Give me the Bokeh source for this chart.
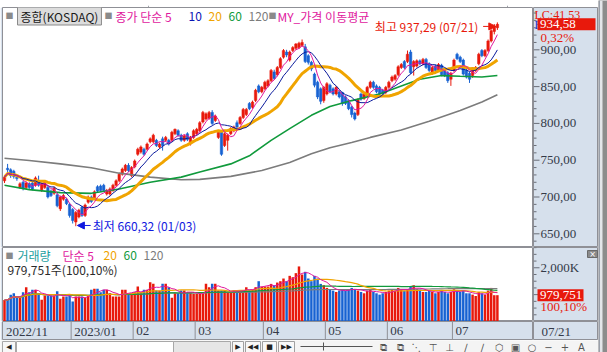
import pandas as pd
from bokeh.plotting import figure
from bokeh.layouts import column, row
from bokeh.models import ColumnDataSource, Range1d, Label, Arrow, NormalHead
from bokeh.embed import file_html
from bokeh.resources import INLINE
from bokeh.core.properties import value

# ---------------- data (KOSDAQ daily, 2022/11/30 - 2023/07/21) ----------------
index_name = "종합(KOSDAQ)"
opens = [722, 739, 737, 735, 727, 713, 720, 713, 718, 719,
         716, 722, 710, 713, 713, 708, 705, 703, 684, 697,
         697, 690, 683, 666, 673, 686, 675, 693, 700, 698,
         714, 715, 716, 704, 704, 709, 716, 722, 731, 736,
         743, 729, 741, 758, 761, 765, 765, 775, 775, 777,
         768, 779, 777, 777, 777, 786, 790, 784, 777, 786,
         772, 781, 786, 790, 802, 806, 807, 815, 804, 781,
         788, 770, 777, 786, 790, 801, 800, 808, 812, 827,
         822, 831, 851, 843, 847, 851, 858, 870, 866, 876,
         890, 897, 886, 899, 902, 903, 906, 904, 892, 883,
         867, 856, 847, 831, 840, 852, 847, 840, 843, 842,
         836, 831, 822, 814, 812, 840, 834, 838, 849, 856,
         851, 849, 845, 842, 849, 858, 860, 866, 876, 884,
         884, 897, 877, 878, 885, 881, 887, 881, 868, 878,
         872, 879, 872, 869, 860, 872, 894, 890, 886, 872,
         868, 865, 872, 881, 899, 892, 899, 912, 925, 930]
closes = [727, 737, 729, 728, 725, 718, 712, 719, 713, 711,
          726, 716, 718, 720, 700, 702, 712, 688, 700, 702,
          691, 675, 668, 679, 682, 675, 689, 700, 694, 707,
          708, 709, 709, 709, 711, 716, 722, 731, 738, 743,
          736, 740, 749, 765, 768, 758, 772, 779, 784, 770,
          772, 770, 781, 772, 788, 792, 784, 777, 783, 778,
          781, 790, 792, 801, 815, 813, 815, 800, 810, 788,
          758, 786, 784, 793, 795, 795, 808, 819, 819, 820,
          829, 845, 843, 849, 856, 858, 872, 861, 876, 888,
          899, 893, 897, 903, 908, 909, 910, 884, 883, 874,
          852, 836, 830, 849, 854, 843, 840, 849, 836, 827,
          827, 820, 812, 806, 832, 833, 840, 849, 856, 849,
          843, 840, 840, 849, 856, 863, 865, 877, 880, 876,
          894, 869, 884, 885, 881, 887, 876, 872, 876, 872,
          880, 866, 865, 858, 868, 886, 888, 884, 867, 863,
          860, 874, 876, 894, 892, 899, 912, 926, 931.6, 934.58]
highs = [730, 745, 739, 737, 729, 720, 722, 721, 720, 721,
         728, 729, 719, 722, 715, 710, 714, 705, 702, 704,
         699, 692, 685, 681, 684, 688, 691, 702, 702, 709,
         716, 717, 718, 711, 713, 718, 724, 733, 740, 745,
         746, 742, 751, 767, 770, 767, 774, 781, 786, 779,
         774, 782, 783, 779, 790, 793, 792, 786, 785, 788,
         783, 792, 794, 803, 817, 815, 817, 818, 812, 790,
         790, 788, 786, 795, 797, 804, 810, 821, 821, 829,
         831, 847, 853, 851, 858, 860, 874, 873, 878, 890,
         901, 900, 899, 905, 909, 911, 914, 908, 894, 885,
         869, 858, 849, 851, 856, 854, 849, 851, 845, 843,
         838, 833, 824, 816, 834, 842, 842, 851, 858, 858,
         853, 851, 847, 851, 858, 865, 867, 879, 882, 886,
         899, 900, 886, 887, 887, 889, 889, 883, 878, 880,
         882, 881, 874, 871, 870, 888, 896, 892, 888, 874,
         870, 876, 878, 896, 901, 901, 914, 928, 935, 937.29]
lows = [719, 733, 726, 725, 722, 711, 709, 711, 711, 709,
        714, 714, 707, 711, 698, 700, 703, 686, 681, 695,
        689, 672, 664, 660.32, 671, 673, 673, 691, 692, 696,
        706, 707, 707, 702, 702, 707, 714, 720, 729, 734,
        734, 727, 739, 756, 759, 756, 763, 773, 773, 768,
        766, 763, 775, 770, 775, 784, 782, 775, 775, 776,
        770, 779, 784, 788, 800, 804, 805, 798, 802, 779,
        756, 768, 763, 784, 788, 793, 798, 806, 810, 818,
        820, 829, 841, 841, 845, 849, 856, 859, 864, 874,
        888, 890, 884, 897, 900, 901, 904, 882, 880, 871,
        849, 833, 826, 828, 838, 841, 838, 838, 834, 824,
        825, 818, 808, 804, 810, 831, 832, 836, 847, 847,
        841, 838, 838, 840, 847, 856, 858, 864, 874, 874,
        882, 867, 865, 876, 879, 879, 874, 870, 866, 870,
        870, 864, 863, 855, 851, 870, 886, 882, 865, 861,
        855, 862, 870, 879, 890, 890, 897, 910, 921, 927]
volumes = [800000, 810000, 1000000, 1055000, 881000, 881000, 1092000, 1278000, 1092000, 1179000,
           1179000, 1030000, 807000, 968000, 968000, 968000, 968000, 1130000, 844000, 931000,
           931000, 968000, 745000, 931000, 931000, 931000, 881000, 968000, 1179000, 1215000,
           1215000, 1092000, 1179000, 1179000, 1055000, 931000, 931000, 931000, 1179000, 1179000,
           1030000, 1030000, 1092000, 1300000, 1055000, 1179000, 1179000, 1464000, 1403000, 1154000,
           1154000, 1403000, 1403000, 1278000, 881000, 1055000, 1055000, 1154000, 1154000, 1055000,
           1055000, 1030000, 1030000, 1030000, 1030000, 1403000, 1278000, 1403000, 1403000, 1154000,
           1154000, 1154000, 1092000, 1092000, 1154000, 1154000, 1154000, 1154000, 1278000, 1179000,
           1179000, 1278000, 1500000, 1300000, 1300000, 1300000, 1400000, 1350000, 1450000, 1500000,
           1600000, 1500000, 1700000, 1650000, 1800000, 2050000, 1750000, 1850000, 1600000, 1500000,
           1700000, 1600000, 1400000, 1350000, 1250000, 1200000, 1150000, 1100000, 1150000, 1200000,
           1150000, 1200000, 1250000, 1200000, 1150000, 1100000, 1050000, 1150000, 1200000, 1100000,
           1050000, 1000000, 1050000, 1100000, 1150000, 1200000, 1150000, 1250000, 1200000, 1150000,
           1200000, 1300000, 1350000, 1200000, 1150000, 1100000, 1100000, 1150000, 1100000, 1050000,
           1100000, 1150000, 1100000, 1050000, 1100000, 1200000, 1150000, 1100000, 1150000, 1050000,
           1050000, 1000000, 950000, 1100000, 1050000, 1000000, 1150000, 1250000, 978772, 979751]
# moving averages 60 / 120 (day index, value)
ma60_day = [0, 8, 18, 28, 37, 47, 57, 63, 73, 79, 86, 92, 99, 105, 112, 121, 128, 134, 141, 147, 154, 159]
ma60_val = [716, 710, 706, 705, 711, 720, 727, 734, 745, 756, 777, 793, 811, 823, 831, 840, 851, 860, 865, 864, 863, 865]
ma120_day = [0, 8, 18, 28, 37, 47, 57, 63, 73, 83, 92, 99, 105, 112, 118, 128, 137, 147, 154, 159]
ma120_val = [752.7, 749.6, 745, 739.7, 732.4, 727, 723.4, 724, 728, 736, 747, 758.7, 767, 774, 781, 791, 803, 817.5, 829, 839]
month_start = [0, 22, 42, 62, 84, 104, 124, 145]
month_label = ["2022/11", "2023/01", "02", "03", "04", "05", "06", "07"]
last_date = "07/21"
hi_date = "07/21"
lo_date = "01/03"
lc_text = "LC:41,53"
price_ticks = [650, 700, 750, 800, 850, 900]
price_minor = list(range(640, 960, 10))
vol_ticks = [1000000, 2000000]
vol_minor = list(range(0, 2750001, 250000))

# ---------------- styling ----------------
AXBG = "#d6e0ec"
LINE = "#8f9096"
RED = "#e8190c"
BLUE = "#1762d2"
MAG = "#e0189e"
NAVY = "#0a1a9c"
ORANGE = "#f0a400"
GREEN = "#109a3c"
GRAY = "#7c7c7c"
TEAL = "#1a9e9e"
TXT = "#343a48"
KR = "Noto Sans CJK KR"
NUM = "Liberation Sans Narrow"

FL, FR, W = 2, 533, 598   # plot frame left / right, window content right (px)
RW = W - FR               # width of the right info column
XR = Range1d(-0.645, 170.65)


def fmt2(v):
    return f"{v:.2f}".replace(".", ",")


n = len(closes)
xs = list(range(n))
cols = [RED if c >= o else BLUE for o, c in zip(opens, closes)]
bot = [min(o, c) for o, c in zip(opens, closes)]
top = [max(max(o, c), b + 1.0) for o, c, b in zip(opens, closes, bot)]
src = ColumnDataSource(dict(x=xs, o=opens, c=closes, h=highs, l=lows, top=top, bot=bot, col=cols, v=volumes))

cs = pd.Series(closes)
ma5 = cs.rolling(5, min_periods=1).mean()
ma10 = cs.rolling(10, min_periods=1).mean()
ma20 = cs.rolling(20, min_periods=1).mean()
vs = pd.Series(volumes, dtype=float)
vma = {k: vs.rolling(k, min_periods=1).mean() for k in (5, 20, 60, 120)}


def clean(p):
    p.xgrid.visible = False
    p.ygrid.visible = False
    return p


def panel(h, yr, bg="white"):
    p = figure(width=FR, height=h, x_range=XR, y_range=yr, output_backend="svg", toolbar_location=None,
               x_axis_location=None, y_axis_location=None, min_border_left=FL, min_border_right=0,
               min_border_top=0, min_border_bottom=0, background_fill_color=bg, border_fill_color=AXBG,
               outline_line_color=LINE)
    return clean(p)


def side(h, yr):
    p = figure(width=RW, height=h, x_range=Range1d(0, RW), y_range=yr, output_backend="svg",
               toolbar_location=None, x_axis_location=None, y_axis_location=None, min_border=0,
               background_fill_color=AXBG, border_fill_color=AXBG, outline_line_color=LINE)
    return clean(p)


def lab(p, text, x, y, color, size="12px", font=KR, xu="screen", yu="screen", align="left",
        baseline="middle", **kw):
    p.add_layout(Label(x=x, y=y, x_units=xu, y_units=yu, text=text, text_color=color,
                       text_font_size=size, text_font=font, text_align=align, text_baseline=baseline, **kw))


def scale_ticks(p, ticks, minor, labels):
    mn = [m for m in minor if m not in ticks]
    p.segment(x0=[0] * len(mn), y0=mn, x1=[3] * len(mn), y1=mn, line_color="#6a6e78")
    p.segment(x0=[0] * len(ticks), y0=ticks, x1=[6] * len(ticks), y1=ticks, line_color="#6a6e78")
    p.text(x=[7] * len(ticks), y=ticks, text=labels, text_font=value(NUM), text_font_size="13px",
           text_color=TXT, text_baseline="middle")


def gtext(p, x, y, text, color, size="13px"):
    p.text(x=[x], y=[y], text=[text], text_font=value(NUM), text_font_size=size,
           text_color=color, text_baseline="middle")


def value_box(p, val, text, right, half):
    # red current-value marker on the scale column
    p.quad(left=[4], right=[right], bottom=[val - half], top=[val + half], fill_color=RED, line_color=None)
    gtext(p, 6.5, val, text, "white")


# ---------------- main price panel ----------------
MT, MB = 7, 247
PY = Range1d(631.4, 957.5)
main = panel(MB - MT, PY)
main_r = side(MB - MT, PY)
scale_ticks(main_r, price_ticks, price_minor, [fmt2(t) for t in price_ticks])
mx = lambda gx: gx - FL
rx = lambda gx: gx - FR
my = lambda gy: MB - gy
p_unit = (PY.end - PY.start) / (MB - MT)      # price per pixel
py = lambda gy: PY.end - (gy - MT) * p_unit

main.segment(x0="x", y0="l", x1="x", y1="h", line_color="col", line_width=1, source=src)
main.vbar(x="x", width=0.8, top="top", bottom="bot", fill_color="col", line_color="col", line_width=0.5, source=src)
main.line(ma120_day, ma120_val, line_color=GRAY, line_width=1.6)
main.line(ma60_day, ma60_val, line_color=GREEN, line_width=1.6)
main.line(xs, ma20, line_color=ORANGE, line_width=3)
main.line(xs, ma10, line_color=NAVY, line_width=1)
main.line(xs, ma5, line_color=MAG, line_width=1)

# legend row
lab(main, "■", mx(5), my(15), "#8a8a8a", size="8px")
lab(main, index_name, mx(17), my(15.5), "#1a1a1a", background_fill_color="#dcdcdc",
    border_line_color="#8a8a8a", padding=dict(left=3, right=3, top=1, bottom=0))
lab(main, "■", mx(104), my(15), "#8a8a8a", size="8px")
lab(main, "종가 단순 5", mx(115), my(15.5), MAG)
lab(main, "10", mx(188), my(15.5), "#0a14b4")
lab(main, "20", mx(208), my(15.5), ORANGE)
lab(main, "60", mx(228), my(15.5), GREEN)
lab(main, "120", mx(248), my(15.5), GRAY)
lab(main, "■", mx(268), my(15), "#8a8a8a", size="8px")
lab(main, "MY_가격 이동평균", mx(277), my(15.5), MAG)

# high / low annotations
hi_i = max(range(n), key=lambda i: highs[i])
lo_i = min(range(n), key=lambda i: lows[i])
hi_v, lo_v = highs[hi_i], lows[lo_i]
lab(main, f"최고 {fmt2(hi_v)} ({hi_date})", hi_i, hi_v - 5.5, RED, xu="data", yu="data",
    align="right", x_offset=-19)
main.add_layout(Arrow(end=NormalHead(size=7, fill_color=RED, line_color=RED), line_color=RED, line_width=1,
                      x_start=hi_i - 4.6, y_start=hi_v - 5.5, x_end=hi_i - 0.5, y_end=hi_v - 5.5))
lab(main, f"최저 {fmt2(lo_v)} ({lo_date})", lo_i, lo_v + 1, "#1018e0", xu="data", yu="data",
    align="left", x_offset=17)
main.add_layout(Arrow(end=NormalHead(size=7, fill_color="#1018e0", line_color="#1018e0"), line_color="#1018e0",
                      line_width=1, x_start=lo_i + 4.8, y_start=lo_v + 1, x_end=lo_i + 0.5, y_end=lo_v + 1))

# right column info (price)
chg = (closes[-1] / closes[-2] - 1) * 100
gtext(main_r, rx(534), py(14), lc_text, RED, size="12px")
gtext(main_r, rx(534), py(24), "H", "#1440d0", size="12px")
value_box(main_r, closes[-1], fmt2(closes[-1]), 62, 6 * p_unit)
gtext(main_r, rx(540), py(36.5), fmt2(chg) + "%", RED)

# ---------------- volume panel ----------------
VT, VB = 247, 321
VY = Range1d(0, 2755000)
vol = panel(VB - VT, VY)
vol_r = side(VB - VT, VY)
scale_ticks(vol_r, vol_ticks, vol_minor, [f"{t // 1000:,}K" for t in vol_ticks])
vy = lambda gy: VB - gy
v_unit = (VY.end - VY.start) / (VB - VT)
vol.vbar(x="x", width=0.8, top="v", bottom=0, fill_color="col", line_color=None, source=src)
vol.line(xs, vma[120], line_color=GRAY, line_width=1.2)
vol.line(xs, vma[60], line_color=GREEN, line_width=1.2)
vol.line(xs, vma[20], line_color=ORANGE, line_width=1.2)
vol.line(xs, vma[5], line_color=MAG, line_width=1)

ratio = volumes[-1] / volumes[-2] * 100
lab(vol, "■", mx(5), vy(254.5), "#8a8a8a", size="8px")
lab(vol, "거래량", mx(17), vy(255), TEAL)
lab(vol, "단순 5", mx(62), vy(255), MAG)
lab(vol, "20", mx(103), vy(255), ORANGE)
lab(vol, "60", mx(123), vy(255), GREEN)
lab(vol, "120", mx(143), vy(255), GRAY)
lab(vol, f"{volumes[-1]:,}주({fmt2(ratio)}%)", mx(7), vy(268.5), "#2a2a2a")
vol_r.quad(left=[rx(587)], right=[rx(597)], bottom=[vy(257) * v_unit], top=[vy(250) * v_unit],
           fill_color="#8a8a8a", line_color="#6a6a6a")
vol_r.text(x=[rx(592)], y=[vy(253.5) * v_unit], text=["×"], text_font=value("DejaVu Sans"),
           text_font_size="8px", text_color="white", text_align="center", text_baseline="middle")
value_box(vol_r, volumes[-1], f"{volumes[-1]:,}", 50, 6 * v_unit)
gtext(vol_r, rx(540), vy(305.5) * v_unit, fmt2(ratio) + "%", RED)

# ---------------- date strip ----------------
DH = 19
date = panel(DH, Range1d(0, 1), bg=AXBG)
date_r = side(DH, Range1d(0, 1))
sep = [m - 0.5 for m in month_start[1:]]
date.segment(x0=sep, y0=[0] * len(sep), x1=sep, y1=[1] * len(sep), line_color=LINE, line_width=1)
date.text(x=[m - 0.5 for m in month_start], y=[0.5] * len(month_start), text=month_label, x_offset=3,
          text_font=value(NUM), text_font_size="13px", text_color=TXT, text_baseline="middle")
gtext(date_r, rx(541), 0.5, last_date, TXT)

# ---------------- window chrome ----------------
top_strip = clean(figure(width=W, height=MT, x_range=(0, W), y_range=(MT, 0), output_backend="svg",
                         toolbar_location=None, x_axis_location=None, y_axis_location=None, min_border=0,
                         background_fill_color="white", outline_line_color=None))
top_strip.segment(x0=[0], y0=[5.5], x1=[W], y1=[5.5], line_color="#a0a4aa")
top_strip.segment(x0=[148, 507], y0=[0, 0], x1=[148, 507], y1=[5.5, 5.5], line_color="#a0a4aa")

tb = clean(figure(width=W, height=12, x_range=(0, W), y_range=(12, 0), output_backend="svg",
                  toolbar_location=None, x_axis_location=None, y_axis_location=None, min_border=0,
                  background_fill_color="#f4f4f4", outline_line_color=None))
tb.quad(left=[2, 16, 173], right=[15, 173, 230], top=[1, 1, 1], bottom=[12, 12, 12],
        fill_color=["#f8f8f8", "white", "#e6e6e6"], line_color="#a8a8a8")
tb.quad(left=[232, 245, 262, 278], right=[243, 260, 276, 294], top=[1] * 4, bottom=[12] * 4,
        fill_color="#f8f8f8", line_color="#a0a0a0")
tb.text(x=[8.5, 237.5, 252.5, 269, 286], y=[6.5] * 5, text=["◀", "▶", "◀◀", "■", "▶▶"],
        text_font=value("DejaVu Sans"), text_font_size="7px", text_color="#222222",
        text_align="center", text_baseline="middle")
tb.segment(x0=[300, 323], y0=[6, 2], x1=[372, 323], y1=[6, 10], line_color="#555555")
icons = ["⧉", "⧉", "⋱", "⊤", "⊥", "∕", "∕", "⬡", "▣", "○", "−", "+", "A"]
tb.text(x=[383 + 16.5 * i for i in range(len(icons))], y=[6.5] * len(icons), text=icons,
        text_font=value("DejaVu Sans"), text_font_size="10px", text_color="#555555",
        text_align="center", text_baseline="middle")

rs = clean(figure(width=9, height=352, x_range=(0, 9), y_range=(352, 0), output_backend="svg",
                  toolbar_location=None, x_axis_location=None, y_axis_location=None, min_border=0,
                  background_fill_color="#8c8c8c", outline_line_color=None))
rs.quad(left=[0, 1.5], right=[1.5, 4], top=[0, 0], bottom=[352, 352], fill_color=["#9aa0aa", "#e4e6ea"],
        line_color=None)

body = column(top_strip, row(main, main_r, spacing=0), row(vol, vol_r, spacing=0),
              row(date, date_r, spacing=0), tb, spacing=0)
layout = row(body, rs, spacing=0)
open("out.html", "w").write(file_html(layout, INLINE))
